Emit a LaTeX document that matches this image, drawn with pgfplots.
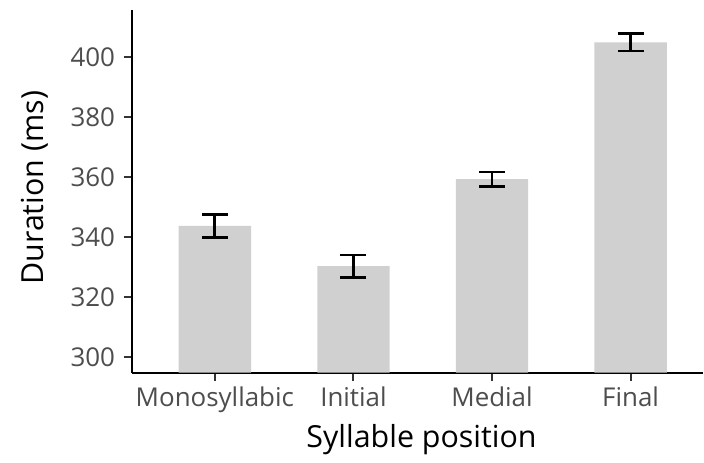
\documentclass[border=0pt]{standalone}
\usepackage{fontspec}
\setmainfont{Open Sans}
\usepackage{pgfplots}
\pgfplotsset{compat=1.18}
\definecolor{barfill}{HTML}{D0D0D0}
\definecolor{ticklab}{HTML}{4D4D4D}
\definecolor{tickcol}{HTML}{333333}
\begin{document}
\begin{tikzpicture}
\useasboundingbox (0bp,0bp) rectangle (704bp,463bp);
\begin{axis}[
  at={(131.7bp,90.3bp)}, anchor=south west,
  scale only axis, width=571bp, height=362.7bp,
  xmin=-0.6, xmax=3.52, ymin=294.7, ymax=415.6,
  axis x line*=bottom, axis y line*=left,
  axis line style={line width=2bp, black, -},
  xtick={0,1,2,3}, xticklabels={Monosyllabic,Initial,Medial,Final},
  ytick={300,320,340,360,380,400},
  tick align=outside, major tick length=8bp,
  tick style={line width=2bp, tickcol},
  /pgf/number format/assume math mode=true,
  tick label style={font=\fontsize{26}{26}\selectfont, color=ticklab},
  yticklabel style={anchor=east, inner sep=0pt, xshift=-8.5bp},
  xticklabel style={anchor=north, inner sep=0pt, yshift=-6bp},
  every axis y label/.style={at={(axis description cs:-0.169,0.51)}, rotate=90, anchor=center, font=\fontsize{30.5}{30.5}\selectfont, color=black},
  every axis x label/.style={at={(axis description cs:0.5075,-0.1856)}, anchor=center, font=\fontsize{30.5}{30.5}\selectfont, color=black},
  xlabel={Syllable position},
  ylabel={Duration (ms)},
  clip=true,
]
\addplot[ybar, bar width=0.522, fill=barfill, draw=none,
  error bars/.cd, y dir=both, y explicit,
  error bar style={line width=2.8bp, black},
  error mark options={line width=2.8bp, black, mark size=13bp, rotate=90}]
  coordinates {
  (0,343.6) +- (0,3.9)
  (1,330.2) +- (0,3.75)
  (2,359.2) +- (0,2.4)
  (3,404.8) +- (0,2.85)
  };
\end{axis}
\end{tikzpicture}
\end{document}
